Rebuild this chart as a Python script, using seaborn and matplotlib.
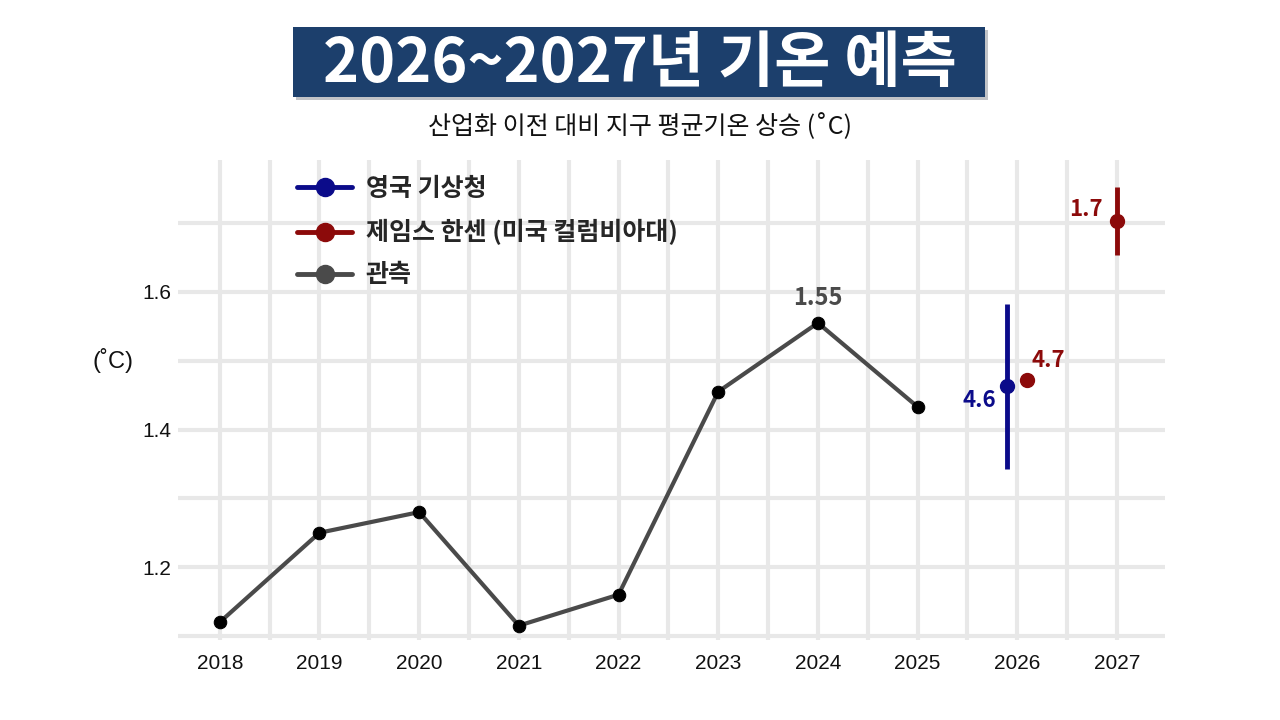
import matplotlib
matplotlib.use("Agg")
import matplotlib.pyplot as plt
import seaborn as sns
import pandas as pd
from matplotlib.lines import Line2D
from matplotlib.patches import Rectangle
from matplotlib.ticker import MultipleLocator
import matplotlib.patheffects as pe

# observed anomaly (°C above pre-industrial)
obs_years = [2018, 2019, 2020, 2021, 2022, 2023, 2024, 2025]
obs_values = [1.12, 1.25, 1.28, 1.115, 1.16, 1.455, 1.555, 1.433]

# forecasts
met_year = [2025.9]
met_value = [1.463]
met_err_low = [0.12]
met_err_high = [0.12]

hansen_years = [2026.1, 2027]
hansen_values = [1.472, 1.703]
hansen_err = [0.0, 0.05]

met_label = "4.6"
hansen_labels = ["4.7", "1.7"]

year_ticks = list(range(2018, 2028))
y_ticks = [1.2, 1.4, 1.6]

NAVY = "#0b0b8a"
DARKRED = "#8c0a0a"
GRAY = "#4a4a4a"
TICKFONT = ["Liberation Sans", "DejaVu Sans"]

sns.set_theme(style="white")
plt.rcParams["font.family"] = ["Noto Sans CJK KR", "DejaVu Sans"]

fig = plt.figure(figsize=(12.8, 7.2), dpi=100)
ax = fig.add_axes([0.139, 0.111, 0.771, 0.667])

df = pd.DataFrame({"year": obs_years, "value": obs_values})
sns.lineplot(data=df, x="year", y="value", ax=ax, color=GRAY, linewidth=3,
             marker="o", markersize=9, markerfacecolor="black",
             markeredgecolor="black", zorder=4)

ax.errorbar(met_year, met_value, yerr=[met_err_low, met_err_high], fmt="o",
            color=NAVY, ms=10, elinewidth=3.5, capsize=0, zorder=5)
ax.errorbar(hansen_years, hansen_values, yerr=hansen_err, fmt="o",
            color=DARKRED, ms=10, elinewidth=3.5, capsize=0, zorder=5)

# annotations
ax.annotate("1.55", (obs_years[6], obs_values[6]), xytext=(0, 18),
            textcoords="offset points", ha="center", va="center",
            fontsize=17, fontweight="bold", color=GRAY)
ax.annotate(met_label, (met_year[0], met_value[0]), xytext=(-8, -10),
            textcoords="offset points", ha="right", va="center",
            fontsize=16, fontweight="bold", color=NAVY)
ax.annotate(hansen_labels[0], (hansen_years[0], hansen_values[0]), xytext=(3, 6),
            textcoords="offset points", ha="left", va="bottom",
            fontsize=16, fontweight="bold", color=DARKRED)
ax.annotate(hansen_labels[1], (hansen_years[1], hansen_values[1]), xytext=(-10, 8),
            textcoords="offset points", ha="right", va="center",
            fontsize=16, fontweight="bold", color=DARKRED)

ax.set_xlim(2017.58, 2027.48)
ax.set_ylim(1.094, 1.792)
ax.set_xticks(year_ticks)
ax.set_xticklabels([str(y) for y in year_ticks])
ax.set_yticks(y_ticks)
ax.set_yticklabels([f"{v:.1f}" for v in y_ticks])
ax.xaxis.set_minor_locator(MultipleLocator(0.5))
ax.yaxis.set_minor_locator(MultipleLocator(0.1))
for lab in ax.get_xticklabels() + ax.get_yticklabels():
    lab.set_fontfamily(TICKFONT)
    lab.set_fontsize(15)
    lab.set_color("#111111")
ax.tick_params(axis="both", which="both", length=0)
ax.tick_params(axis="x", pad=10)
ax.tick_params(axis="y", pad=5)

ax.grid(True, which="both", color="#e8e8e8", linewidth=3, zorder=0)
ax.set_axisbelow(True)
for s in ax.spines.values():
    s.set_visible(False)
ax.set_xlabel("")
ax.set_ylabel("(˚C)", rotation=0, fontsize=17, color="#111111",
              fontfamily=TICKFONT, ha="center", va="center")
ax.yaxis.set_label_coords(-0.066, 0.583)

handles = [
    Line2D([0], [0], color=NAVY, lw=3.5, marker="o", ms=13),
    Line2D([0], [0], color=DARKRED, lw=3.5, marker="o", ms=13),
    Line2D([0], [0], color=GRAY, lw=3.5, marker="o", ms=13),
]
leg = ax.legend(handles, ["영국 기상청", "제임스 한센 (미국 컬럼비아대)", "관측"],
                loc="upper left", bbox_to_anchor=(0.108, 0.99), frameon=False,
                borderpad=0, handlelength=2.2, labelspacing=0.72,
                handletextpad=0.55,
                prop={"family": ["Noto Sans CJK KR", "DejaVu Sans"],
                      "weight": "bold", "size": 18})

# title block
fig.patches.append(Rectangle((293 / 1280, 1 - 97 / 720), 692 / 1280, 70 / 720,
                             transform=fig.transFigure, facecolor="#1c3f6c",
                             edgecolor="none", zorder=1,
                             path_effects=[pe.withSimplePatchShadow(
                                 offset=(2, -2), alpha=0.25)]))
fig.text(0.5, 1 - 64 / 720, "2026~2027년 기온 예측", ha="center", va="center",
         fontsize=44, fontweight="bold", color="white", zorder=2)
fig.text(0.5, 1 - 127 / 720, "산업화 이전 대비 지구 평균기온 상승 (˚C)", ha="center",
         va="center", fontsize=18, color="#111111")

fig.savefig("out.png", dpi=100, facecolor="white")
